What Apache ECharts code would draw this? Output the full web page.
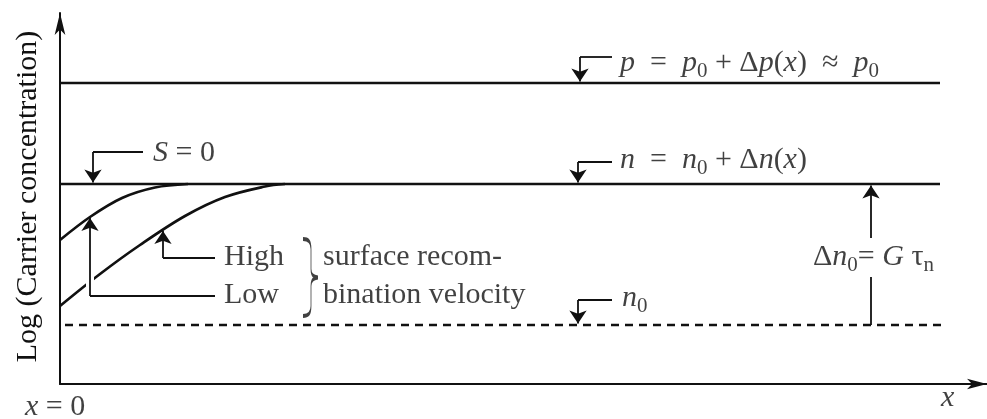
<!DOCTYPE html>
<html>
<head>
<meta charset="utf-8">
<script src="https://cdn.jsdelivr.net/npm/echarts@6/dist/echarts.min.js"></script>
<style>
html,body{margin:0;padding:0;background:#fff;}
#chart{width:987px;height:419px;}
</style>
</head>
<body>
<div id="chart"></div>
<script>
// ---- Data (axis units: arbitrary position x, log carrier concentration y) ----
const xEnd = 88;              // end of the plotted region along x
const pLevel = 30.1;          // p = p0 + Δp(x) ≈ p0
const nLevel = 20.0;          // n = n0 + Δn(x)  (S = 0)
const n0Level = 5.9;          // n0 (equilibrium)
const dashEnd = 88.3;

// n(x) near the surface, low surface recombination velocity
const lowSx = [0, 3, 6.2, 9.5, 12.8];
const lowSy = [14.4, 16.7, 18.6, 19.65, 20.0];
// n(x) near the surface, high surface recombination velocity
const highSx = [0, 4, 8, 12.5, 16.5, 20.5, 22.5];
const highSy = [7.8, 11.0, 13.9, 16.8, 18.7, 19.75, 20.0];

// ---- Annotation layout (axis units) ----
const connectors = [
  [[55.2, 32.7], [52, 32.7]],
  [[55.2, 22.2], [51.8, 22.2]],
  [[55.2, 8.4], [51.8, 8.4]],
  [[8.3, 23.2], [3.3, 23.2]],
  [[15.5, 12.6], [10.3, 12.6]],
  [[15.5, 8.8], [3, 8.8]],
  [[81.1, 5.9], [81.1, 10.7]]
];
const pointers = [
  [[52, 32.7], [52, 30.25]],
  [[51.8, 22.2], [51.8, 20.15]],
  [[51.8, 8.4], [51.8, 6.05]],
  [[3.3, 23.2], [3.3, 20.15]],
  [[10.3, 12.6], [10.3, 15.3]],
  [[3, 8.8], [3, 16.6]],
  [[81.1, 14.6], [81.1, 19.85]]
];
const gapMarks = [ [[3, 9.4], [3, 11.0]] ];

const notes = [
  { at: [56, 32.1], text: '{i|p}{t|  =  }{i|p}{s|0}{t| + Δ}{i|p}{t|(}{i|x}{t|)  ≈  }{i|p}{s|0}' },
  { at: [56, 22.4], text: '{i|n}{t|  =  }{i|n}{s|0}{t| + Δ}{i|n}{t|(}{i|x}{t|)}' },
  { at: [56.2, 8.6], text: '{i|n}{s|0}' },
  { at: [9.3, 23.1], text: '{i|S}{t| = 0}' },
  { at: [16.4, 12.7], text: '{t|High}' },
  { at: [16.4, 8.9], text: '{t|Low}' },
  { at: [26.3, 12.7], text: '{t|surface recom-}' },
  { at: [26.3, 8.9], text: '{t|bination velocity}' },
  { at: [75.3, 12.7], text: '{t|Δ}{i|n}{s|0}{t|= }{i|G}{t| τ}{s|n}' },
  { at: [-3.5, -2.3], text: '{i|x}{t| = 0}' },
  { at: [88.1, -1.4], text: '{i|x}' }
];
const braceAt = [25.05, 10.65];

// ---- Chart ----
const ink = '#111';
const serif = 'Liberation Serif';
const rich = {
  t: { fontFamily: serif, fontSize: 30, color: ink },
  i: { fontFamily: serif, fontSize: 30, fontStyle: 'italic', color: ink },
  s: { fontFamily: serif, fontSize: 21, color: ink, padding: [17, 0, 0, 0] }
};
const zip = (xs, ys) => xs.map((x, k) => [x, ys[k]]);

const chart = echarts.init(document.getElementById('chart'), null, { renderer: 'canvas' });
chart.setOption({
  animation: false,
  backgroundColor: '#fff',
  grid: { left: 60, right: 0, top: 13, bottom: 35 },
  xAxis: {
    type: 'value', min: 0, max: 92.7,
    axisLine: { show: true, symbol: ['none', 'arrow'], symbolSize: [8, 20], lineStyle: { color: ink, width: 2 } },
    axisTick: { show: false }, axisLabel: { show: false }, splitLine: { show: false }
  },
  yAxis: {
    type: 'value', min: 0, max: 37.1,
    name: 'Log (Carrier concentration)', nameLocation: 'middle', nameGap: 17,
    nameTextStyle: { fontFamily: serif, fontSize: 30, color: ink, padding: [0, 0, 0, 4] },
    axisLine: { show: true, symbol: ['none', 'arrow'], symbolSize: [8, 22], lineStyle: { color: ink, width: 2 } },
    axisTick: { show: false }, axisLabel: { show: false }, splitLine: { show: false }
  },
  series: [
    { type: 'line', name: 'p', data: [[0, pLevel], [xEnd, pLevel]], symbol: 'none',
      lineStyle: { color: ink, width: 2.7 }, z: 3 },
    { type: 'line', name: 'n', data: [[0, nLevel], [xEnd, nLevel]], symbol: 'none',
      lineStyle: { color: ink, width: 2.7 }, z: 3 },
    { type: 'line', name: 'n0', data: [[0.5, n0Level], [dashEnd, n0Level]], symbol: 'none',
      lineStyle: { color: ink, width: 2.5, type: [8, 6] }, z: 3 },
    { type: 'line', name: 'low S', data: zip(lowSx, lowSy), symbol: 'none', smooth: 0.35,
      lineStyle: { color: ink, width: 2.7 }, z: 3 },
    { type: 'line', name: 'high S', data: zip(highSx, highSy), symbol: 'none', smooth: 0.35,
      lineStyle: { color: ink, width: 2.7 }, z: 3 },
    { type: 'lines', coordinateSystem: 'cartesian2d', silent: true, z: 4,
      data: gapMarks.map(c => ({ coords: c })), symbol: ['none', 'none'],
      lineStyle: { color: '#fff', width: 8, opacity: 1, curveness: 0 } },
    { type: 'lines', coordinateSystem: 'cartesian2d', silent: true, z: 5,
      data: connectors.map(c => ({ coords: c })), symbol: ['none', 'none'],
      lineStyle: { color: ink, width: 1.8, opacity: 1, curveness: 0 } },
    { type: 'lines', coordinateSystem: 'cartesian2d', silent: true, z: 5,
      data: pointers.map(c => ({ coords: c })), symbol: ['none', 'arrow'], symbolSize: [6, 13],
      lineStyle: { color: ink, width: 1.8, opacity: 1, curveness: 0 } },
    { type: 'scatter', silent: true, clip: false, z: 6, symbolSize: [15, 77],
      symbol: 'path://M0,0 C6,0 8,3 8,10 L8,30 C8,35 10,38 15,38.5 C10,39 8,42 8,47 L8,67 C8,74 6,77 0,77',
      itemStyle: { color: 'none', borderColor: ink, borderWidth: 1.8 },
      data: [braceAt] },
    { type: 'scatter', silent: true, clip: false, z: 6, symbolSize: 0,
      data: notes.map(n => ({ value: n.at, label: { formatter: n.text } })),
      label: { show: true, position: 'right', distance: 0, rich: rich, fontFamily: serif, fontSize: 30, color: ink } }
  ]
});
</script>
</body>
</html>
